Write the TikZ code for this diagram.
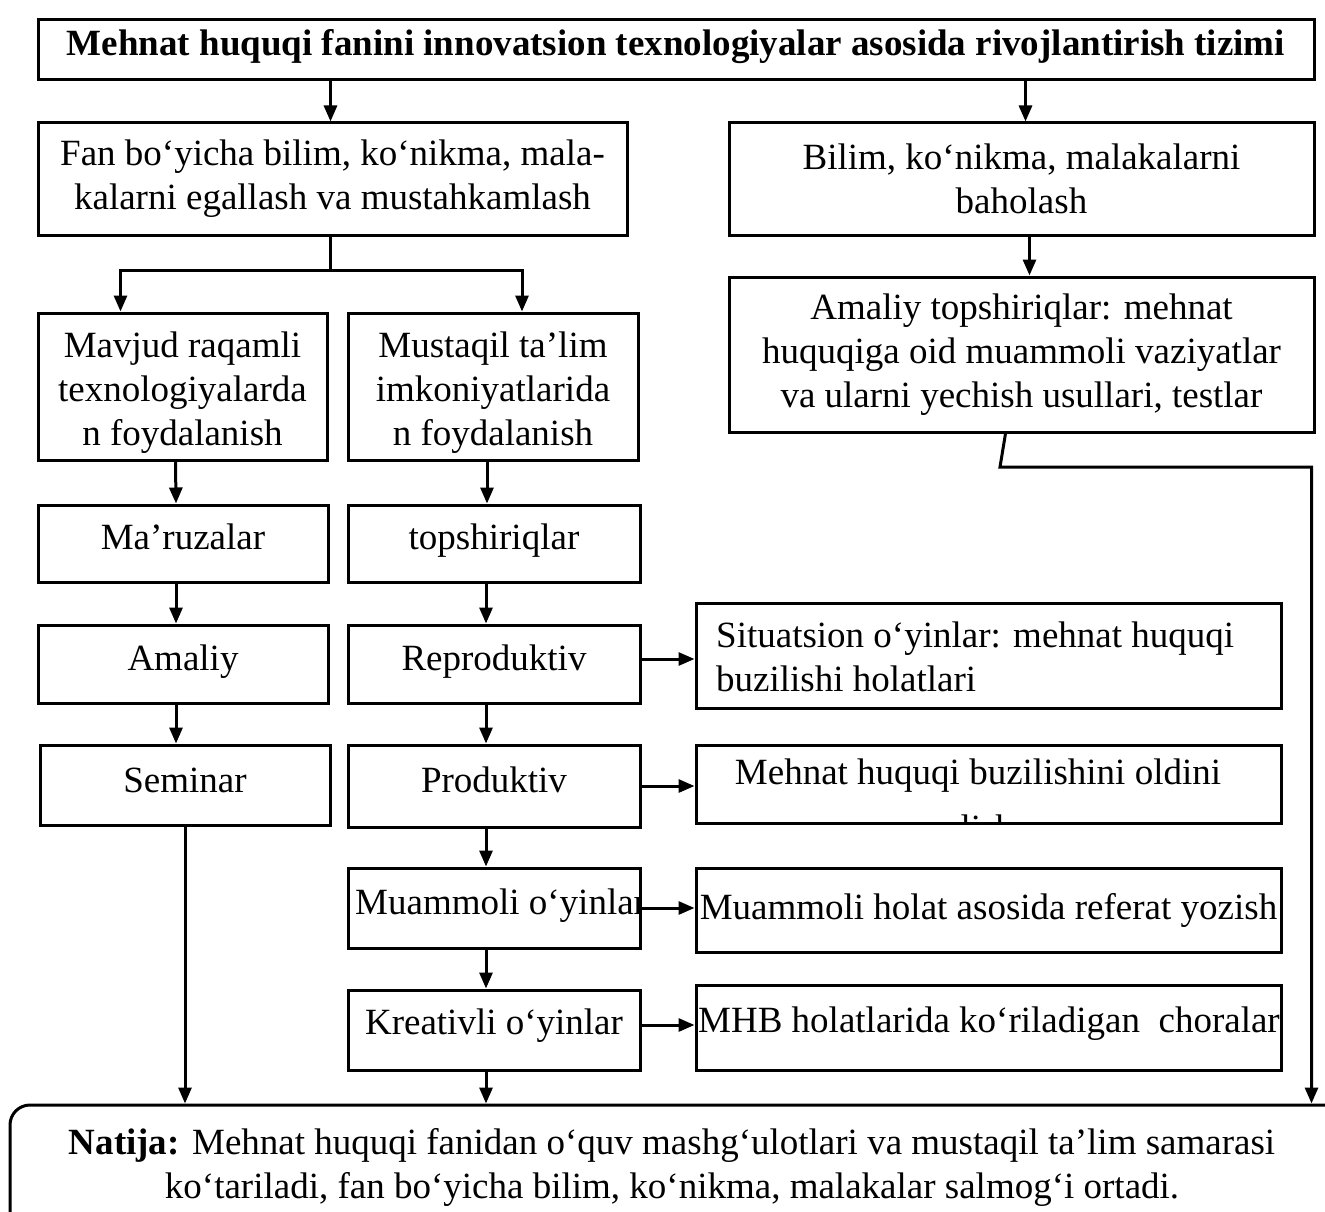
\documentclass[tikz,border=0pt]{standalone}
\usepackage{fontspec}
\setmainfont{Liberation Serif}
\usetikzlibrary{arrows.meta}
\newcommand\mkbox[7][0]{\node[box, minimum width={(#5-#3)*1pt}, minimum height={(#6-#4)*1pt}] (#2) at ({(#3+#5)/2},{(#4+#6)/2}) {};
  \node[txt, align=center] (#2t) at ([yshift={-(#1)*1pt}]#2.center) {#7};}
\begin{document}
\begin{tikzpicture}[x=1pt,y=-1pt,
  box/.style={draw, line width=3pt, inner sep=0pt},
  txt/.style={inner sep=0pt, font=\fontsize{37}{44}\selectfont},
  arr/.style={line width=3pt, -{Triangle[length=16pt,width=13pt]}},
  ln/.style={line width=3pt}]
\clip (0,0) rectangle (1325,1212);
\fill[white] (0,0) rectangle (1325,1212);
% boxes
\mkbox[-3]{title}{38}{20}{1314}{80}{\fontsize{37}{44}\selectfont\bfseries Mehnat huquqi fanini innovatsion texnologiyalar asosida rivojlantirish tizimi}
\mkbox{A}{38}{123}{627}{235}{Fan bo‘yicha bilim, ko‘nikma, mala-\\kalarni egallash va mustahkamlash}
\mkbox{B}{729}{123}{1314}{235}{Bilim, ko‘nikma, malakalarni\\baholash}
\mkbox[6]{C}{38}{313}{327}{460}{Mavjud raqamli\\texnologiyalarda\\n foydalanish}
\mkbox[6]{D}{348}{313}{638}{460}{Mustaqil ta’lim\\imkoniyatlarida\\n foydalanish}
\mkbox{E}{729}{277}{1314}{432}{Amaliy topshiriqlar: mehnat\\huquqiga oid muammoli vaziyatlar\\va ularni yechish usullari, testlar}
\mkbox[-7]{F}{38}{505}{328}{582}{Ma’ruzalar}
\mkbox[-3]{G}{348}{505}{640}{582}{topshiriqlar}
\mkbox[-2]{H}{38}{625}{328}{703}{Amaliy}
\mkbox[-2]{I}{348}{625}{640}{703}{Reproduktiv}
\mkbox[-5]{K}{40}{745}{330}{825}{Seminar}
\mkbox[-6]{L}{348}{745}{640}{827}{Produktiv}
\mkbox{O}{696}{868}{1281}{952}{Muammoli holat asosida referat yozish}
\mkbox[-4]{P}{348}{990}{640}{1070}{Kreativli o‘yinlar}
\node[box, minimum width=585pt, minimum height=105pt] (J) at (988.5,655.5) {};
\node[txt, anchor=west, align=left] (Jt) at (716,657) {Situatsion o‘yinlar: mehnat huquqi\\buzilishi holatlari};
\node[box, minimum width=585pt, minimum height=78pt] (M) at (988.5,784) {};
\node[box, minimum width=292pt, minimum height=80pt] (N) at (494,908) {};
\node[box, minimum width=585pt, minimum height=85pt] (Q) at (988.5,1027.5) {};
\begin{scope}
  \clip (M.south west) rectangle (M.north east);
  \node[txt] (Mt) at (978,776) {Mehnat huquqi buzilishini oldini};
  \node[txt, anchor=base] (Mt2) at (978,840) {olish};
\end{scope}
\begin{scope}
  \clip (N.south west) rectangle (N.north east);
  \node[txt, anchor=west] (Nt) at (355,906) {Muammoli o‘yinlar};
\end{scope}
\begin{scope}
  \clip (Q.south west) rectangle (Q.north east);
  \node[txt, anchor=west] (Qt) at (698,1024) {MHB holatlarida ko‘riladigan\ \ choralar};
\end{scope}
% result box
\node[draw, line width=3pt, rounded corners=20pt, minimum width=1335pt, minimum height=135pt, inner sep=0pt] (R) at (677.5,1172.5) {};
\node[txt, align=center] (Rt) at (672,1167) {\textbf{Natija:} Mehnat huquqi fanidan o‘quv mashg‘ulotlari va mustaqil ta’lim samarasi\\ko‘tariladi, fan bo‘yicha bilim, ko‘nikma, malakalar salmog‘i ortadi.};
% connectors
\draw[arr] ([xshift=-2pt]title.south -| A.north) -- ([xshift=-2pt]A.north);
\draw[arr] ([xshift=4pt]title.south -| B.north) -- ([xshift=4pt]B.north);
\coordinate (sp) at ([xshift=-2pt]A.south |- 0,270);
\draw[ln] ([xshift=-2pt]A.south) -- (sp);
\draw[arr] (sp) -| ([xshift=-62pt]C.north);
\draw[arr] (sp) -| ([xshift=29pt]D.north);
\draw[arr] ([xshift=8pt]B.south) -- ([xshift=8pt]E.north);
\coordinate (e1) at (1000,467);
\draw[arr] ([xshift=-16pt]E.south) -- (e1) -| ([xshift=634pt]R.north);
\draw[arr] ([xshift=-7pt]C.south) -- ([xshift=-7pt]F.north);
\draw[arr] ([xshift=-6pt]D.south) -- ([xshift=-7pt]G.north);
\draw[arr] ([xshift=-7pt]F.south) -- ([xshift=-7pt]H.north);
\draw[arr] ([xshift=-8pt]G.south) -- ([xshift=-8pt]I.north);
\draw[arr] ([xshift=-7pt]H.south) -- ([xshift=-9pt]K.north);
\draw[arr] ([xshift=-8pt]I.south) -- ([xshift=-8pt]L.north);
\draw[arr] ([xshift=-8pt]L.south) -- ([xshift=-8pt]N.north);
\draw[arr] ([xshift=-8pt]N.south) -- ([xshift=-8pt]P.north);
\draw[arr] ([xshift=-8pt]P.south) -- ([xshift=-8pt]P.south |- R.north);
\draw[arr] (K.south) -- (K.south |- R.north);
\draw[arr] ([yshift=5pt]I.east) -- ([yshift=5pt]I.east -| J.west);
\draw[arr] (L.east) -- (L.east -| M.west);
\draw[arr] (N.east) -- (N.east -| O.west);
\draw[arr] ([yshift=5pt]P.east) -- ([yshift=5pt]P.east -| Q.west);
\end{tikzpicture}
\end{document}
